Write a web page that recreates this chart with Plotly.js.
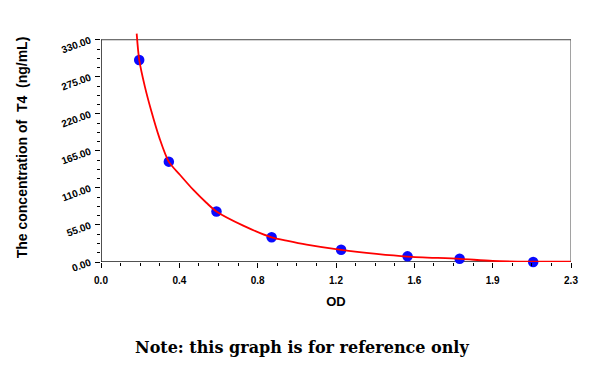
<!DOCTYPE html>
<html>
<head>
<meta charset="utf-8">
<script src="https://cdn.plot.ly/plotly-3.0.1.min.js"></script>
<style>html,body{margin:0;padding:0;background:#fff;}#chart{width:600px;height:367px;}</style>
</head>
<body>
<div id="chart"></div>
<script>
// Standard points (OD, concentration ng/mL)
const pointOD   = [0.187, 0.332, 0.565, 0.835, 1.175, 1.500, 1.755, 2.115];
const pointConc = [300, 149, 75, 36.7, 18.3, 8.4, 4.7, 0];

// Fitted curve
const curveOD   = [0.1746, 0.1873, 0.215, 0.2445, 0.285, 0.3315, 0.386, 0.451, 0.517, 0.565, 0.696, 0.835, 0.908, 1.006, 1.175, 1.348, 1.500, 1.755, 1.917, 2.113, 2.298];
const curveConc = [339, 299.7, 260, 226, 185, 149, 129.5, 107.3, 87.6, 75, 54, 36.7, 31.8, 25.9, 18.1, 12.1, 8.1, 4.7, 1.6, 0.6, 0.4];

// Axis tick labels (evenly spaced on the OD axis)
const xTickText = ['0.0', '0.4', '0.8', '1.2', '1.6', '1.9', '2.3'];
const xMax = 2.3;
const yMax = 330;

const xTickVals = xTickText.map((t, i) => i * xMax / (xTickText.length - 1));

const tickFont = {family: 'Liberation Sans, Arial, sans-serif', size: 10, color: '#000', weight: 'bold'};
const titleFont = {family: 'Liberation Sans, Arial, sans-serif', size: 14, color: '#000', weight: 'bold'};

const data = [
  {
    x: pointOD, y: pointConc, type: 'scatter', mode: 'markers',
    marker: {color: '#0a0aff', size: 10.5},
    cliponaxis: false, showlegend: false
  },
  {
    x: curveOD, y: curveConc, type: 'scatter', mode: 'lines',
    line: {color: '#ff0000', width: 1.8, shape: 'spline', smoothing: 0.8},
    hoverinfo: 'skip', showlegend: false
  }
];

const layout = {
  width: 600, height: 367,
  margin: {l: 101, r: 28.6, t: 32.7, b: 104.5},
  paper_bgcolor: '#fff', plot_bgcolor: '#fff',
  showlegend: false,
  xaxis: {
    range: [0, xMax], showgrid: false, zeroline: false, showline: false,
    tickmode: 'array', tickvals: xTickVals, ticktext: xTickText,
    ticks: 'outside', ticklen: 5, tickcolor: '#000', tickwidth: 1,
    ticklabelstandoff: 4,
    minor: {tickmode: 'linear', tick0: 0, dtick: xMax / 24, ticks: 'outside', ticklen: 3, tickcolor: '#000', showgrid: false},
    tickfont: tickFont,
    title: {text: 'OD', font: {family: 'Liberation Sans, Arial, sans-serif', size: 13, color: '#000', weight: 'bold'}, standoff: 11}
  },
  yaxis: {
    range: [0, 340], showgrid: false, zeroline: false, showline: false,
    tickmode: 'linear', tick0: 0, dtick: 55, tickformat: '.2f',
    ticks: 'outside', ticklen: 5, tickcolor: '#000', tickwidth: 1,
    ticklabelstandoff: 3,
    minor: {tickmode: 'linear', tick0: 0, dtick: 13.75, ticks: 'outside', ticklen: 3, tickcolor: '#000', showgrid: false},
    tickangle: -20,
    tickfont: tickFont,
    title: {text: 'The concentration of\u00a0 T4\u00a0 (ng/mL)', font: titleFont, standoff: 28}
  },
  shapes: [
    {type: 'rect', xref: 'x', yref: 'y', x0: 0, x1: xMax, y0: 0, y1: yMax, line: {color: '#444', width: 1}, layer: 'below'},
    {type: 'line', xref: 'x', yref: 'y', x0: 0, x1: 0, y0: 0, y1: yMax, line: {color: '#000', width: 1}, layer: 'below'},
    {type: 'line', xref: 'x', yref: 'y', x0: 0, x1: xMax, y0: 0, y1: 0, line: {color: '#000', width: 1}, layer: 'below'}
  ],
  annotations: [
    {text: 'Note: this graph is for reference only', xref: 'paper', yref: 'paper',
     x: 0.5, xshift: -34, y: 0, yshift: -85, yanchor: 'middle', xanchor: 'center', showarrow: false,
     font: {family: 'DejaVu Serif, serif', size: 16, color: '#000', weight: 'bold'}}
  ]
};

Plotly.newPlot('chart', data, layout, {displayModeBar: false, staticPlot: true});
</script>
</body>
</html>
